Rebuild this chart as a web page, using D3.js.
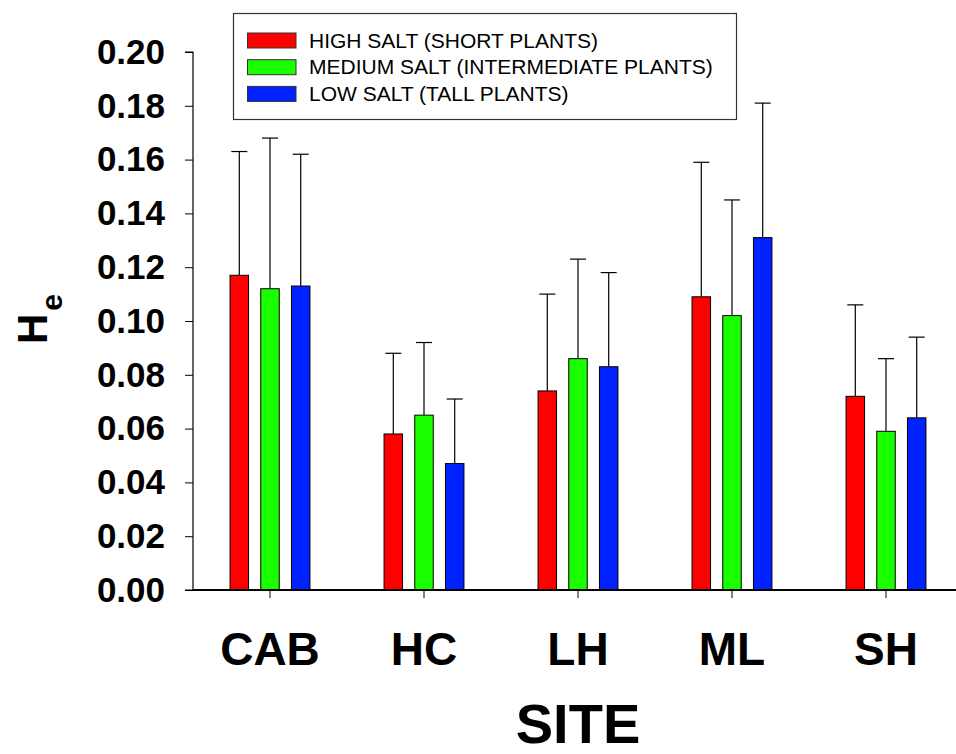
<!DOCTYPE html>
<html><head><meta charset="utf-8">
<script src="https://cdn.jsdelivr.net/npm/d3@7"></script>
<style>body{margin:0;background:#fff}svg{display:block}text{font-family:Arial,"Liberation Sans",sans-serif}</style>
</head><body>
<svg id="c" width="956" height="754"></svg>
<script>
const sites = ["CAB","HC","LH","ML","SH"];
const seriesNames = ["HIGH SALT (SHORT PLANTS)","MEDIUM SALT (INTERMEDIATE PLANTS)","LOW SALT (TALL PLANTS)"];
const colors = ["#ff0000","#1aff00","#0022ff"];
const highSalt = [0.117,0.058,0.074,0.109,0.072];
const highSaltErr = [0.046,0.030,0.036,0.050,0.034];
const medSalt = [0.112,0.065,0.086,0.102,0.059];
const medSaltErr = [0.056,0.027,0.037,0.043,0.027];
const lowSalt = [0.113,0.047,0.083,0.131,0.064];
const lowSaltErr = [0.049,0.024,0.035,0.050,0.030];
const yTicks = [0,0.02,0.04,0.06,0.08,0.10,0.12,0.14,0.16,0.18,0.20];

const svg = d3.select("#c");
const x0 = 193, yBase = 590, yTop = 52;
const x = d3.scaleBand().domain(sites).range([x0, x0 + 770]).padding(0);
const y = d3.scaleLinear().domain([0,0.2]).range([yBase, yTop]);
const values = [highSalt, medSalt, lowSalt];
const errs = [highSaltErr, medSaltErr, lowSaltErr];
const barW = 18.5, step = 30.7;

// y axis
const yAxis = d3.axisLeft(y).tickValues(yTicks).tickFormat(d3.format(".2f")).tickSize(8).tickPadding(20);
const gy = svg.append("g").attr("transform",`translate(${x0},0)`).call(yAxis);
gy.select(".domain").attr("stroke","#000").attr("stroke-width",1.2).attr("d",`M-8,${yTop}H0V${yBase}H-8`);
gy.selectAll(".tick line").attr("stroke","#000").attr("stroke-width",1);
gy.selectAll(".tick text").attr("font-size",35).attr("font-weight","bold").attr("fill","#000");

// bars
const data = [];
sites.forEach((s,i)=>values.forEach((arr,k)=>data.push({s,k,v:arr[i],e:errs[k][i]})));
const bx = d => x(d.s) + x.bandwidth()/2 + (d.k-1)*step - barW/2;
svg.append("g").selectAll("line").data(data).join("line")
  .attr("x1",d=>bx(d)+barW/2).attr("x2",d=>bx(d)+barW/2)
  .attr("y1",d=>y(d.v)).attr("y2",d=>y(d.v+d.e)).attr("stroke","#000").attr("stroke-width",1.2);
svg.append("g").selectAll("line").data(data).join("line")
  .attr("x1",d=>bx(d)+barW/2-8).attr("x2",d=>bx(d)+barW/2+8)
  .attr("y1",d=>y(d.v+d.e)).attr("y2",d=>y(d.v+d.e)).attr("stroke","#000").attr("stroke-width",1.2);
svg.append("g").selectAll("rect").data(data).join("rect")
  .attr("x",bx).attr("width",barW).attr("y",d=>y(d.v)).attr("height",d=>yBase-y(d.v))
  .attr("fill",d=>colors[d.k]).attr("stroke","#000").attr("stroke-width",1);

// x axis
const xAxis = d3.axisBottom(x).tickSize(8).tickPadding(34);
const gx = svg.append("g").attr("transform",`translate(0,${yBase})`).call(xAxis);
gx.select(".domain").attr("stroke","#000").attr("stroke-width",2).attr("d",`M${x0},0H956`);
gx.selectAll(".tick line").attr("stroke","#000").attr("stroke-width",1);
gx.selectAll(".tick text").attr("font-size",46).attr("font-weight","bold").attr("fill","#000");

// axis titles
svg.append("text").attr("x",578).attr("y",743).attr("text-anchor","middle")
  .attr("font-size",56).attr("font-weight","bold").text("SITE");
const yt = svg.append("text").attr("transform","translate(47,344) rotate(-90)").attr("text-anchor","start")
  .attr("font-size",42).attr("font-weight","bold");
yt.append("tspan").text("H");
yt.append("tspan").attr("font-size",30).attr("dy",15).attr("dx",3).text("e");

// legend
const lg = svg.append("g");
lg.append("rect").attr("x",233.5).attr("y",13.5).attr("width",503).attr("height",106)
  .attr("fill","#fff").attr("stroke","#333").attr("stroke-width",1.2);
seriesNames.forEach((n,i)=>{
  const yy = 33 + i*26.7;
  lg.append("rect").attr("x",247.5).attr("y",yy).attr("width",48.5).attr("height",15)
    .attr("fill",colors[i]).attr("stroke","#333").attr("stroke-width",1);
  lg.append("text").attr("x",309).attr("y",yy+14.5).attr("font-size",21).attr("fill","#000").text(n);
});
</script>
</body></html>
